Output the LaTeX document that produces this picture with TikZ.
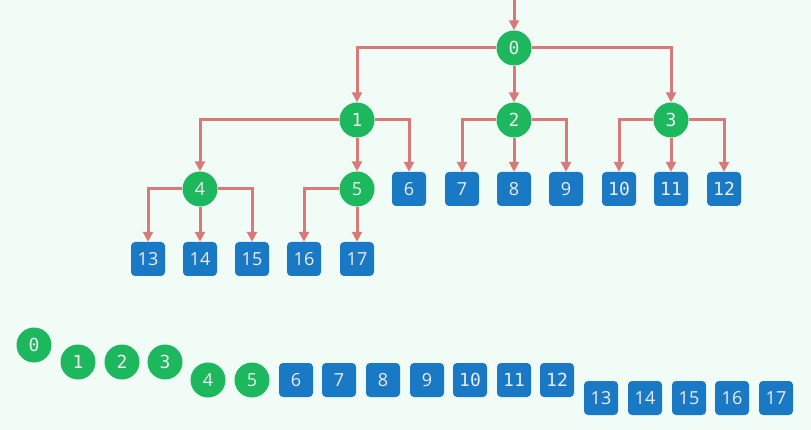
\documentclass[tikz,border=0pt]{standalone}
\usepackage{fontspec}
\newfontfamily\monof{DejaVu Sans Mono}
\newfontfamily\sansf{Open Sans}
\usetikzlibrary{arrows.meta}
\definecolor{bgc}{HTML}{F2FCF7}
\definecolor{grn}{HTML}{1DB75E}
\definecolor{blu}{HTML}{1A79C4}
\definecolor{edg}{HTML}{D97A78}
\definecolor{txt}{HTML}{EDEDED}
\tikzset{
  x=1pt,y=-1pt,
  circ/.style={circle,fill=grn,minimum size=35pt,inner sep=0pt,text=txt,font=\fontsize{18}{18}\selectfont},
  sq/.style={rectangle,rounded corners=4pt,fill=blu,minimum size=34pt,inner sep=0pt,text=txt,font=\fontsize{18}{18}\selectfont},
  edge/.style={draw=edg,line width=3pt,-{Triangle[length=10pt,width=10pt]}}
}
\begin{document}
\begin{tikzpicture}
\fill[bgc] (0,0) rectangle (811,430);
\useasboundingbox (0,0) rectangle (811,430);
% tree
\node[circ] (n0) at (514,48) {\monof 0};
\node[circ] (n1) at (357,120) {\monof 1};
\node[circ] (n2) at (514,120) {\monof 2};
\node[circ] (n3) at (671,120) {\monof 3};
\node[circ] (n4) at (200,189) {\sansf 4};
\node[circ] (n5) at (357,189) {\sansf 5};
\node[sq] (n6) at (409,189) {\sansf 6};
\node[sq] (n7) at (462,189) {\sansf 7};
\node[sq] (n8) at (514,189) {\sansf 8};
\node[sq] (n9) at (566,189) {\sansf 9};
\node[sq] (n10) at (619,189) {\monof 10};
\node[sq] (n11) at (671,189) {\monof 11};
\node[sq] (n12) at (724,189) {\monof 12};
\node[sq] (n13) at (148,259) {\sansf 13};
\node[sq] (n14) at (200,259) {\sansf 14};
\node[sq] (n15) at (252,259) {\sansf 15};
\node[sq] (n16) at (304,259) {\sansf 16};
\node[sq] (n17) at (357,259) {\sansf 17};
\coordinate (top) at (514,0);
\draw[edge] (top) -- (n0.north);
\draw[edge] (n0.west) -| (n1.north);
\draw[edge] (n0.south) -- (n2.north);
\draw[edge] (n0.east) -| (n3.north);
\draw[edge] (n1.west) -| (n4.north);
\draw[edge] (n1.south) -- (n5.north);
\draw[edge] (n1.east) -| (n6.north);
\draw[edge] (n2.west) -| (n7.north);
\draw[edge] (n2.south) -- (n8.north);
\draw[edge] (n2.east) -| (n9.north);
\draw[edge] (n3.west) -| (n10.north);
\draw[edge] (n3.south) -- (n11.north);
\draw[edge] (n3.east) -| (n12.north);
\draw[edge] (n4.west) -| (n13.north);
\draw[edge] (n4.south) -- (n14.north);
\draw[edge] (n4.east) -| (n15.north);
\draw[edge] (n5.west) -| (n16.north);
\draw[edge] (n5.south) -- (n17.north);
% array
\node[circ] (a0) at (34,345) {\monof 0};
\node[circ] (a1) at (78,362) {\monof 1};
\node[circ] (a2) at (122,362) {\monof 2};
\node[circ] (a3) at (165,362) {\monof 3};
\node[circ] (a4) at (208,380) {\sansf 4};
\node[circ] (a5) at (252,380) {\sansf 5};
\node[sq] (a6) at (296,380) {\sansf 6};
\node[sq] (a7) at (339,380) {\sansf 7};
\node[sq] (a8) at (383,380) {\sansf 8};
\node[sq] (a9) at (427,380) {\sansf 9};
\node[sq] (a10) at (470,380) {\monof 10};
\node[sq] (a11) at (514,380) {\monof 11};
\node[sq] (a12) at (557,380) {\monof 12};
\node[sq] (a13) at (601,398) {\sansf 13};
\node[sq] (a14) at (645,398) {\sansf 14};
\node[sq] (a15) at (689,398) {\sansf 15};
\node[sq] (a16) at (732,398) {\sansf 16};
\node[sq] (a17) at (776,398) {\sansf 17};
\end{tikzpicture}
\end{document}
